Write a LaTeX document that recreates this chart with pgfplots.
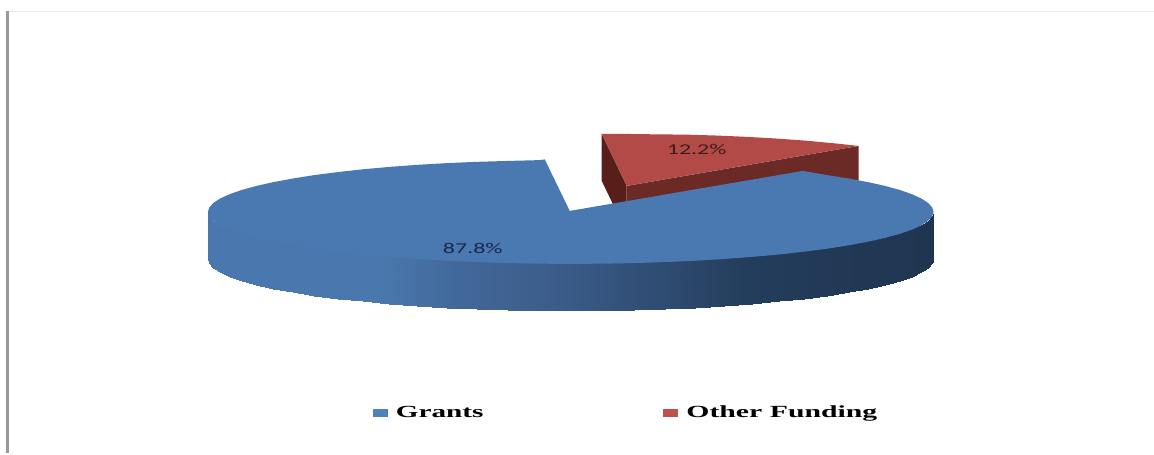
\documentclass[border=0pt]{standalone}
\usepackage{pgfplots}
\pgfplotsset{compat=1.18}
\usepackage{fontspec}
\setmainfont{Liberation Serif}
\newfontfamily\labelfont{Carlito}
\definecolor{blueTop}{RGB}{74,120,176}
\definecolor{redTop}{RGB}{178,75,72}
\definecolor{redFace}{RGB}{108,42,38}
\definecolor{redCut}{RGB}{88,30,26}
\definecolor{legBlue}{RGB}{79,129,189}
\definecolor{legRed}{RGB}{192,80,77}
\begin{document}
\begin{tikzpicture}
\begin{axis}[
  scale only axis, width=1154pt, height=453pt,
  hide axis, clip=false,
  view={0}{90},
  xmin=0, xmax=1154, ymin=0, ymax=453, zmin=-1, zmax=1,
  y dir=reverse,
  colormap={wallshade}{
    rgb255(0pt)=(74,120,174) rgb255(170pt)=(74,120,174) rgb255(250pt)=(66,104,154)
    rgb255(360pt)=(58,91,136) rgb255(450pt)=(47,76,114) rgb255(540pt)=(36,61,92)
    rgb255(726pt)=(31,53,80)},
  point meta min=208, point meta max=934,
  legend columns=2,
  legend cell align=left,
  legend style={draw=none, fill=none, at={(axis cs:373,413)}, anchor=west,
    inner sep=0pt, outer sep=0pt,
    /tikz/column 2/.style={column sep=178pt}},
  legend image code/.code={\path[#1, draw=none] (0pt,-4pt) rectangle (15pt,4pt);},
]
% full page extent
\addplot[draw=none, forget plot] coordinates {(0,0) (1154,453)};

% frame rules on the left and top
\addplot[draw=black!40, line width=3pt, forget plot] coordinates {(7.5,11) (7.5,453)};
\addplot[draw=black!7, line width=1pt, forget plot] coordinates {(9,11.5) (1154,11.5)};

% lifted slice: cut faces, then top
\addplot[fill=redCut, draw=none, forget plot] coordinates {(602,134) (627,186) (627,233) (602,181)} --cycle;
\addplot[fill=redFace, draw=none, forget plot] coordinates {(627,186) (859,146) (859,193) (627,233)} --cycle;
\addplot[fill=redTop, draw=none, forget plot] coordinates {
  (627,186) (859,146) (837,143.6) (807,140.8) (777,138.6) (747,136.9) (717,135.6)
  (687,134.7) (657,134.4) (627,134) (602,134)} --cycle;

% outer wall of the large slice, shaded along x; its upper edge runs under the top face
\addplot3[surf, shader=interp, mesh/cols=2, point meta=x, forget plot] table[x=x, y=y, z=z] {
x y z
208 212 0
208 259 0
209.4 216.5 0
209.4 263.5 0
213.5 221 0
213.5 268 0
220.4 225 0
220.4 272.5 0
229.9 228 0
229.9 276.8 0
242 231 0
242 281 0
256.6 235 0
256.6 285 0
273.6 239 0
273.6 288.8 0
292.9 242 0
292.9 292.4 0
314.3 245 0
314.3 295.8 0
337.7 248 0
337.7 298.8 0
362.8 251 0
362.8 301.6 0
389.5 254 0
389.5 304 0
417.6 256 0
417.6 306.1 0
446.9 258 0
446.9 307.9 0
477.1 259 0
477.1 309.2 0
508 260 0
508 310.2 0
539.4 261 0
539.4 310.8 0
571 261 0
571 311 0
602.6 261 0
602.6 310.8 0
634 260 0
634 310.2 0
664.9 259 0
664.9 309.2 0
695.1 258 0
695.1 307.9 0
724.4 256 0
724.4 306.1 0
752.5 254 0
752.5 304 0
779.2 251 0
779.2 301.6 0
804.3 248 0
804.3 298.8 0
827.7 245 0
827.7 295.8 0
849.1 242 0
849.1 292.4 0
868.4 239 0
868.4 288.8 0
885.4 235 0
885.4 285 0
900 231 0
900 281 0
912.1 228 0
912.1 276.8 0
921.6 225 0
921.6 272.5 0
928.5 221 0
928.5 268 0
932.6 216.5 0
932.6 263.5 0
934 212 0
934 259 0
};

% top of the large slice
\addplot[fill=blueTop, draw=none, forget plot] coordinates {
  (570,211) (545,159.5) (539.4,160.2) (508,161) (477.1,161.9) (446.9,163.2) (417.6,164.9)
  (389.5,167) (362.8,169.4) (337.7,172.2) (314.3,175.2) (292.9,178.6) (273.6,182.2)
  (256.6,186) (242,190) (229.9,194.2) (220.4,198.5) (213.5,203) (209.4,207.5) (208,212)
  (209.4,216.5) (213.5,221) (220.4,225.5) (229.9,229.8) (242,234) (256.6,238) (273.6,241.8)
  (292.9,245.4) (314.3,248.8) (337.7,251.8) (362.8,254.6) (389.5,257) (417.6,259.1)
  (446.9,260.9) (477.1,262.2) (508,263.2) (539.4,263.8) (571,264) (602.6,263.8) (634,263.2)
  (664.9,262.2) (695.1,260.9) (724.4,259.1) (752.5,257) (779.2,254.6) (804.3,251.8)
  (827.7,248.8) (849.1,245.4) (868.4,241.8) (885.4,238) (900,234) (912.1,229.8) (921.6,225.5)
  (928.5,221) (932.6,216.5) (934,212) (932.6,207.5) (928.5,203) (921.6,198.5) (912.1,194.2)
  (900,190) (885.4,186) (868.4,182.2) (849.1,178.6) (827.7,175.2) (803,171)} --cycle;

% slice labels
\definecolor{blueInk}{RGB}{25,40,72}
\definecolor{redInk}{RGB}{62,26,26}
\node[text=blueInk, font=\labelfont\fontsize{15}{15}\selectfont, xscale=1.6] at (axis cs:473,249) {87.8\%};
\node[text=redInk, font=\labelfont\fontsize{15}{15}\selectfont, xscale=1.6] at (axis cs:697,149.5) {12.2\%};

% legend
\addlegendimage{fill=legBlue}
\addlegendentry{\hspace{6pt}\scalebox{1.72}[1]{\bfseries\fontsize{17}{17}\selectfont Grants}}
\addlegendimage{fill=legRed}
\addlegendentry{\hspace{6pt}\scalebox{1.75}[1]{\bfseries\fontsize{17}{17}\selectfont Other Funding}}
\end{axis}
\end{tikzpicture}
\end{document}
